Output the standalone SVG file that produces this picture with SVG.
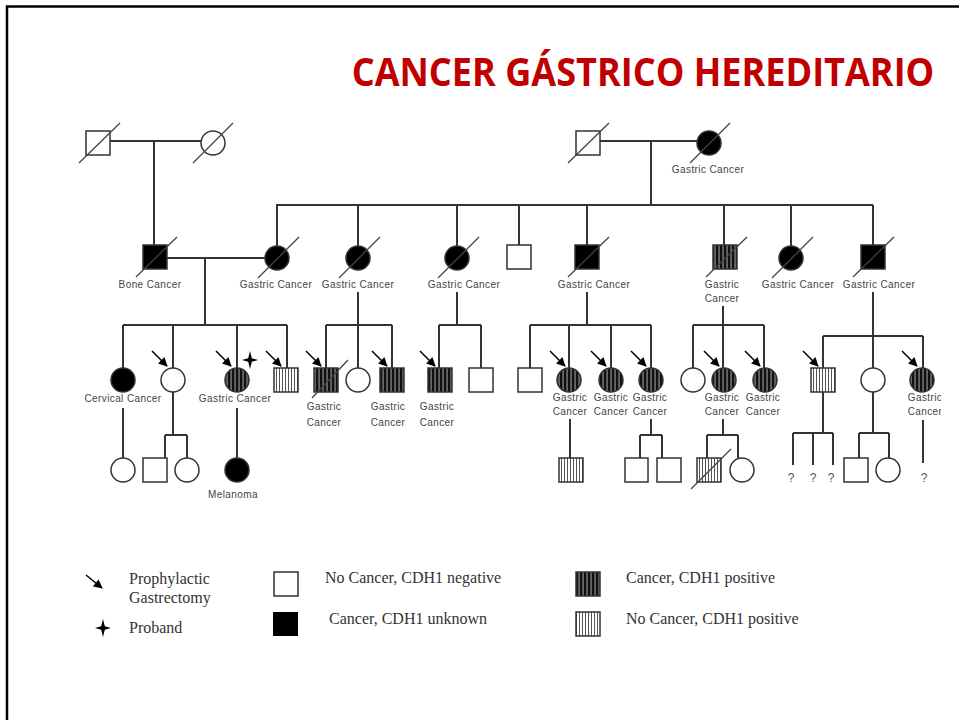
<svg xmlns="http://www.w3.org/2000/svg" width="959" height="720" viewBox="0 0 959 720">
  <defs>
    <style>
      .ln { stroke:#333; stroke-width:2; fill:none; }
      .sym { stroke:#333; stroke-width:1.5; }
      .open { fill:#fff; }
      .aff { fill:#000; }
      .dk { fill:url(#dark); }
      .lt { fill:url(#light); }
      .dec { stroke:#444; stroke-width:1.3; }
      .arr { stroke:#000; stroke-width:1.5; marker-end:url(#ah); }
      .lbl { font-family:"Liberation Sans", Arial, sans-serif; font-size:10px; fill:#444; letter-spacing:0.4px; text-anchor:middle; }
      .q { font-family:"Liberation Sans", Arial, sans-serif; font-size:12px; fill:#555; text-anchor:middle; }
      .leg { font-family:"Liberation Serif", "Times New Roman", serif; font-size:16px; fill:#333; }
    </style>
    <pattern id="dark" width="4" height="4" patternUnits="userSpaceOnUse">
      <rect width="4" height="4" fill="#111"/>
      <rect x="2.6" width="0.9" height="4" fill="#bbb"/>
    </pattern>
    <pattern id="light" width="3" height="3" patternUnits="userSpaceOnUse">
      <rect width="3" height="3" fill="#fff"/>
      <rect x="0" width="1" height="3" fill="#555"/>
    </pattern>
    <marker id="ah" viewBox="0 0 10 10" refX="9" refY="5" markerWidth="10" markerHeight="9" markerUnits="userSpaceOnUse" orient="auto">
      <path d="M0,0 L10,5 L0,10 z" fill="#000"/>
    </marker>
    <path id="star" d="M0,-9 L1.8,-1.8 L8,0 L1.8,1.8 L0,9 L-1.8,1.8 L-8,0 L-1.8,-1.8 z" fill="#000"/>
    <clipPath id="pageClip"><rect x="0" y="0" width="941" height="720"/></clipPath>
  </defs>

  <rect width="959" height="720" fill="#fff"/>
  <!-- slide frame -->
  <path d="M7,720 V6.5 H959" fill="none" stroke="#000" stroke-width="2.5"/>

  <text transform="translate(643,86) scale(0.925,1)" x="0" y="0" text-anchor="middle" font-family="'Open Sans', 'Liberation Sans', sans-serif" font-weight="bold" font-size="39" fill="#c00000">CANCER GÁSTRICO HEREDITARIO</text>

  <!-- connectors -->
  <g id="connectors" class="ln">
    <!-- generation I -->
    <line x1="110" y1="141" x2="201" y2="141"/>
    <line x1="154" y1="141" x2="154" y2="245"/>
    <line x1="600" y1="141" x2="697" y2="141"/>
    <line x1="651" y1="141" x2="651" y2="205"/>
    <!-- generation II sibship -->
    <line x1="276" y1="205" x2="873" y2="205"/>
    <line x1="277" y1="205" x2="277" y2="246"/>
    <line x1="358" y1="205" x2="358" y2="246"/>
    <line x1="457" y1="205" x2="457" y2="246"/>
    <line x1="519" y1="205" x2="519" y2="245"/>
    <line x1="587" y1="205" x2="587" y2="245"/>
    <line x1="724" y1="205" x2="724" y2="245"/>
    <line x1="791" y1="205" x2="791" y2="246"/>
    <line x1="873" y1="205" x2="873" y2="245"/>
    <line x1="167" y1="258" x2="265" y2="258"/>
    <!-- family of II1 x II2 -->
    <line x1="205" y1="258" x2="205" y2="325"/>
    <line x1="123" y1="325" x2="287" y2="325"/>
    <line x1="123" y1="325" x2="123" y2="368"/>
    <line x1="173" y1="325" x2="173" y2="368"/>
    <line x1="237" y1="325" x2="237" y2="368"/>
    <line x1="287" y1="325" x2="287" y2="368"/>
    <!-- family of II3 -->
    <line x1="358" y1="292" x2="358" y2="368"/>
    <line x1="326" y1="325" x2="392" y2="325"/>
    <line x1="326" y1="325" x2="326" y2="368"/>
    <line x1="392" y1="325" x2="392" y2="368"/>
    <!-- family of II4 -->
    <line x1="457" y1="292" x2="457" y2="325"/>
    <line x1="439" y1="325" x2="481" y2="325"/>
    <line x1="439" y1="325" x2="439" y2="368"/>
    <line x1="481" y1="325" x2="481" y2="368"/>
    <!-- family of II6 -->
    <line x1="587" y1="292" x2="587" y2="325"/>
    <line x1="530" y1="325" x2="651" y2="325"/>
    <line x1="530" y1="325" x2="530" y2="368"/>
    <line x1="569" y1="325" x2="569" y2="368"/>
    <line x1="611" y1="325" x2="611" y2="368"/>
    <line x1="651" y1="325" x2="651" y2="368"/>
    <!-- family of II7 -->
    <line x1="723" y1="306" x2="723" y2="368"/>
    <line x1="693" y1="325" x2="764" y2="325"/>
    <line x1="693" y1="325" x2="693" y2="368"/>
    <line x1="764" y1="325" x2="764" y2="368"/>
    <!-- family of II9 -->
    <line x1="873" y1="292" x2="873" y2="368"/>
    <line x1="823" y1="336" x2="923" y2="336"/>
    <line x1="823" y1="336" x2="823" y2="368"/>
    <line x1="923" y1="336" x2="923" y2="368"/>
    <!-- generation IV -->
    <line x1="123" y1="408" x2="123" y2="458"/>
    <line x1="173" y1="392" x2="173" y2="435"/>
    <line x1="165" y1="435" x2="187" y2="435"/>
    <line x1="165" y1="435" x2="165" y2="458"/>
    <line x1="187" y1="435" x2="187" y2="458"/>
    <line x1="237" y1="408" x2="237" y2="458"/>
    <line x1="570" y1="419" x2="570" y2="458"/>
    <line x1="651" y1="419" x2="651" y2="435"/>
    <line x1="640" y1="435" x2="662" y2="435"/>
    <line x1="640" y1="435" x2="640" y2="458"/>
    <line x1="662" y1="435" x2="662" y2="458"/>
    <line x1="723" y1="419" x2="723" y2="435"/>
    <line x1="707" y1="435" x2="738" y2="435"/>
    <line x1="707" y1="435" x2="707" y2="458"/>
    <line x1="738" y1="435" x2="738" y2="458"/>
    <line x1="823" y1="392" x2="823" y2="433"/>
    <line x1="793" y1="433" x2="833" y2="433"/>
    <line x1="793" y1="433" x2="793" y2="465"/>
    <line x1="813" y1="433" x2="813" y2="465"/>
    <line x1="833" y1="433" x2="833" y2="465"/>
    <line x1="873" y1="392" x2="873" y2="433"/>
    <line x1="859" y1="433" x2="889" y2="433"/>
    <line x1="859" y1="433" x2="859" y2="458"/>
    <line x1="889" y1="433" x2="889" y2="458"/>
    <line x1="923" y1="420" x2="923" y2="463"/>
  </g>

  <!-- generation I -->
  <g id="I1"><rect class="sym open" x="86" y="131" width="24" height="24"/><line class="dec" x1="79" y1="163" x2="120" y2="123"/></g>
  <g id="I2"><circle class="sym open" cx="213" cy="143" r="12"/><line class="dec" x1="193" y1="163" x2="233" y2="123"/></g>
  <g id="I3"><rect class="sym open" x="576" y="131" width="24" height="24"/><line class="dec" x1="568" y1="163" x2="609" y2="123"/></g>
  <g id="I4"><circle class="sym aff" cx="709" cy="143" r="12"/><line class="dec" x1="690" y1="163" x2="730" y2="123"/><text class="lbl" x="708" y="173">Gastric Cancer</text></g>

  <!-- generation II -->
  <g id="II1"><rect class="sym aff" x="143" y="245" width="24" height="24"/><line class="dec" x1="136" y1="277" x2="177" y2="237"/><text class="lbl" x="150" y="288">Bone Cancer</text></g>
  <g id="II2"><circle class="sym aff" cx="277" cy="258" r="12"/><line class="dec" x1="258" y1="278" x2="299" y2="237"/><text class="lbl" x="276" y="288">Gastric Cancer</text></g>
  <g id="II3"><circle class="sym aff" cx="358" cy="258" r="12"/><line class="dec" x1="339" y1="278" x2="380" y2="237"/><text class="lbl" x="358" y="288">Gastric Cancer</text></g>
  <g id="II4"><circle class="sym aff" cx="457" cy="258" r="12"/><line class="dec" x1="438" y1="278" x2="479" y2="237"/><text class="lbl" x="464" y="288">Gastric Cancer</text></g>
  <g id="II5"><rect class="sym open" x="507" y="245" width="24" height="24"/></g>
  <g id="II6"><rect class="sym aff" x="575" y="245" width="24" height="24"/><line class="dec" x1="568" y1="277" x2="609" y2="237"/><text class="lbl" x="594" y="288">Gastric Cancer</text></g>
  <g id="II7"><rect class="sym dk" x="713" y="245" width="24" height="24"/><line class="dec" x1="706" y1="277" x2="747" y2="237"/><text class="lbl" x="722" y="288">Gastric</text><text class="lbl" x="722" y="302">Cancer</text></g>
  <g id="II8"><circle class="sym aff" cx="791" cy="258" r="12"/><line class="dec" x1="772" y1="278" x2="813" y2="237"/><text class="lbl" x="798" y="288">Gastric Cancer</text></g>
  <g id="II9"><rect class="sym aff" x="861" y="245" width="24" height="24"/><line class="dec" x1="853" y1="277" x2="894" y2="237"/><text class="lbl" x="879" y="288">Gastric Cancer</text></g>

  <!-- generation III -->
  <g id="III1"><circle class="sym aff" cx="123" cy="380" r="12"/><text class="lbl" x="123" y="402">Cervical Cancer</text></g>
  <g id="III2"><circle class="sym open" cx="173" cy="380" r="12"/><line class="arr" x1="152" y1="351" x2="167" y2="366"/></g>
  <g id="III3"><circle class="sym dk" cx="237" cy="380" r="12"/><line class="arr" x1="216" y1="351" x2="231" y2="366"/><use href="#star" x="250" y="360"/><text class="lbl" x="235" y="402">Gastric Cancer</text></g>
  <g id="III4"><rect class="sym lt" x="274" y="368" width="24" height="24"/><line class="arr" x1="266" y1="351" x2="281" y2="366"/></g>

  <g id="III5"><rect class="sym dk" x="314" y="368" width="24" height="24"/><line class="arr" x1="306" y1="351" x2="321" y2="366"/><line class="dec" x1="312" y1="398" x2="348" y2="360"/><text class="lbl" x="324" y="410">Gastric</text><text class="lbl" x="324" y="426">Cancer</text></g>
  <g id="III6"><circle class="sym open" cx="358" cy="380" r="12"/></g>
  <g id="III7"><rect class="sym dk" x="380" y="368" width="24" height="24"/><line class="arr" x1="372" y1="351" x2="387" y2="366"/><text class="lbl" x="388" y="410">Gastric</text><text class="lbl" x="388" y="426">Cancer</text></g>

  <g id="III8"><rect class="sym dk" x="428" y="368" width="24" height="24"/><line class="arr" x1="420" y1="351" x2="435" y2="366"/><text class="lbl" x="437" y="410">Gastric</text><text class="lbl" x="437" y="426">Cancer</text></g>
  <g id="III9"><rect class="sym open" x="469" y="368" width="24" height="24"/></g>

  <g id="III10"><rect class="sym open" x="518" y="368" width="24" height="24"/></g>
  <g id="III11"><circle class="sym dk" cx="569" cy="380" r="12"/><line class="arr" x1="550" y1="351" x2="565" y2="366"/><text class="lbl" x="570" y="401">Gastric</text><text class="lbl" x="570" y="415">Cancer</text></g>
  <g id="III12"><circle class="sym dk" cx="611" cy="380" r="12"/><line class="arr" x1="591" y1="351" x2="606" y2="366"/><text class="lbl" x="611" y="401">Gastric</text><text class="lbl" x="611" y="415">Cancer</text></g>
  <g id="III13"><circle class="sym dk" cx="651" cy="380" r="12"/><line class="arr" x1="631" y1="351" x2="646" y2="366"/><text class="lbl" x="650" y="401">Gastric</text><text class="lbl" x="650" y="415">Cancer</text></g>

  <g id="III14"><circle class="sym open" cx="693" cy="380" r="12"/></g>
  <g id="III15"><circle class="sym dk" cx="724" cy="380" r="12"/><line class="arr" x1="704" y1="351" x2="719" y2="366"/><text class="lbl" x="722" y="401">Gastric</text><text class="lbl" x="722" y="415">Cancer</text></g>
  <g id="III16"><circle class="sym dk" cx="765" cy="380" r="12"/><line class="arr" x1="745" y1="351" x2="760" y2="366"/><text class="lbl" x="763" y="401">Gastric</text><text class="lbl" x="763" y="415">Cancer</text></g>

  <g id="III17"><rect class="sym lt" x="811" y="368" width="24" height="24"/><line class="arr" x1="803" y1="351" x2="818" y2="366"/></g>
  <g id="III18"><circle class="sym open" cx="873" cy="380" r="12"/></g>
  <g id="III19" clip-path="url(#pageClip)"><circle class="sym dk" cx="922" cy="380" r="12"/><line class="arr" x1="902" y1="351" x2="917" y2="366"/><text class="lbl" x="925" y="401">Gastric</text><text class="lbl" x="925" y="415">Cancer</text></g>

  <!-- generation IV -->
  <g id="IV1"><circle class="sym open" cx="123" cy="470" r="12"/></g>
  <g id="IV2"><rect class="sym open" x="143" y="458" width="24" height="24"/></g>
  <g id="IV3"><circle class="sym open" cx="187" cy="470" r="12"/></g>
  <g id="IV4"><circle class="sym aff" cx="237" cy="470" r="12"/><text class="lbl" x="233" y="498">Melanoma</text></g>
  <g id="IV5"><rect class="sym lt" x="559" y="458" width="24" height="24"/></g>
  <g id="IV6"><rect class="sym open" x="625" y="458" width="23" height="24"/></g>
  <g id="IV7"><rect class="sym open" x="657" y="458" width="24" height="24"/></g>
  <g id="IV8"><rect class="sym lt" x="697" y="458" width="24" height="24"/><line class="dec" x1="691" y1="489" x2="731" y2="449"/></g>
  <g id="IV9"><circle class="sym open" cx="742" cy="470" r="12"/></g>
  <g id="IV10"><text class="q" x="791" y="482">?</text></g>
  <g id="IV11"><text class="q" x="813" y="482">?</text></g>
  <g id="IV12"><text class="q" x="831" y="482">?</text></g>
  <g id="IV13"><rect class="sym open" x="844" y="458" width="24" height="24"/></g>
  <g id="IV14"><circle class="sym open" cx="888" cy="470" r="12"/></g>
  <g id="IV15"><text class="q" x="924" y="482">?</text></g>

  <!-- legend -->
  <g id="legend">
    <line class="arr" x1="86" y1="575" x2="102" y2="588"/>
    <text class="leg" x="129" y="584">Prophylactic</text>
    <text class="leg" x="129" y="603">Gastrectomy</text>
    <use href="#star" x="103" y="628"/>
    <text class="leg" x="129" y="633">Proband</text>
    <rect class="sym open" x="274" y="572" width="24" height="24"/>
    <text class="leg" x="325" y="583">No Cancer, CDH1 negative</text>
    <rect class="aff" x="273" y="612" width="25" height="24"/>
    <text class="leg" x="329" y="624">Cancer, CDH1 unknown</text>
    <rect class="sym dk" x="576" y="572" width="24" height="24"/>
    <text class="leg" x="626" y="583">Cancer, CDH1 positive</text>
    <rect class="sym lt" x="576" y="612" width="24" height="24"/>
    <text class="leg" x="626" y="624">No Cancer, CDH1 positive</text>
  </g>
</svg>
